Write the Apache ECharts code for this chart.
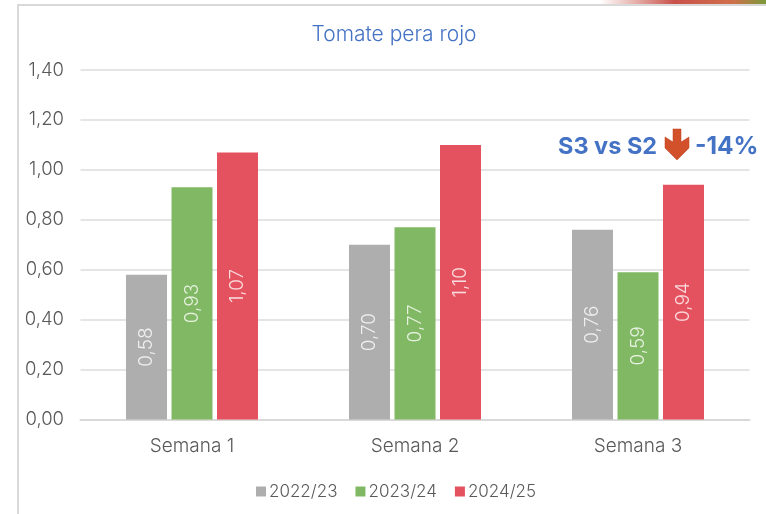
<!DOCTYPE html>
<html><head><meta charset="utf-8">
<style>html,body{margin:0;padding:0;background:#fff}#c{width:766px;height:514px}</style>
<script src="https://cdn.jsdelivr.net/npm/echarts@6/dist/echarts.min.js"></script></head>
<body><div id="c"></div>
<script>
const categories = ['Semana 1','Semana 2','Semana 3'];
const s2022 = [0.58,0.70,0.76];
const s2023 = [0.93,0.77,0.59];
const s2024 = [1.07,1.10,0.94];
const seriesNames = ['2022/23','2023/24','2024/25'];
const colors = ['#AEAEAE','#81B863','#E5525F'];
const titleText = 'Tomate pera rojo';
const noteLeft = 'S3 vs S2';
const noteRight = '-14%';
const font = 'Inter';
const chart = echarts.init(document.getElementById('c'),null,{renderer:'canvas'});
const fmt = v => v.toFixed(2).replace('.',',');
const mk = (name,data,color) => ({
  name,type:'bar',data,barWidth:41,barGap:'11%',
  itemStyle:{color},
  label:{show:true,position:'inside',rotate:90,formatter:p=>fmt(p.value),color:'rgba(255,255,255,.8)',fontFamily:font,fontWeight:300,fontSize:19}
});
chart.setOption({
  animation:false,
  backgroundColor:'#fff',
  title:{text:titleText,left:389,top:19,textAlign:'center',textStyle:{color:'#4472C4',fontFamily:font,fontWeight:300,fontSize:21}},
  grid:{left:80.5,right:16.5,top:70,bottom:94.5},
  legend:{data:seriesNames,top:478,left:251,icon:'rect',itemWidth:10,itemHeight:10,itemGap:18,
    textStyle:{color:'#595959',fontFamily:font,fontWeight:300,fontSize:17,padding:[0,0,0,-2]}},
  xAxis:{type:'category',data:categories,axisTick:{show:false},
    axisLine:{lineStyle:{color:'#D9D9D9',width:2}},
    axisLabel:{color:'#595959',fontFamily:font,fontWeight:300,fontSize:19,margin:17}},
  yAxis:{type:'value',min:0,max:1.4,interval:0.2,axisLine:{show:false},axisTick:{show:false},
    splitLine:{lineStyle:{color:'#DCDCDC',width:1.5}},
    axisLabel:{color:'#595959',fontFamily:font,fontWeight:300,fontSize:18.5,margin:16.5,padding:[2,0,0,0],formatter:v=>fmt(v)}},
  series:[mk(seriesNames[0],s2022,colors[0]),mk(seriesNames[1],s2023,colors[1]),mk(seriesNames[2],s2024,colors[2])],
  graphic:[
    {type:'rect',shape:{x:17,y:4,width:2,height:510},style:{fill:'#D9D9D9'},silent:true},
    {type:'rect',shape:{x:17,y:4,width:749,height:2},style:{fill:'#D9D9D9'},silent:true},
    {type:'rect',shape:{x:600,y:0,width:166,height:4},silent:true,style:{fill:new echarts.graphic.LinearGradient(0,0,1,0,[
      {offset:0,color:'#ffffff'},{offset:.2,color:'#E8B5B0'},{offset:.45,color:'#C9504A'},{offset:.8,color:'#D0704A'},{offset:1,color:'#7A9A3A'}])}},
    {type:'text',x:558,y:147,silent:true,style:{text:noteLeft,fill:'#4472C4',font:'bold 23.5px '+font,textVerticalAlign:'middle'}},
    {type:'polygon',silent:true,shape:{points:[[673,129],[681,129],[681,142],[689,137],[689,148],[677,160],[665,148],[665,137],[673,142]]},
      style:{fill:'#D2502A',stroke:'#B8431F',lineWidth:.5}},
    {type:'text',x:695,y:147,silent:true,style:{text:noteRight,fill:'#4472C4',font:'bold 24.5px '+font,textVerticalAlign:'middle'}}
  ]
});
</script></body></html>
